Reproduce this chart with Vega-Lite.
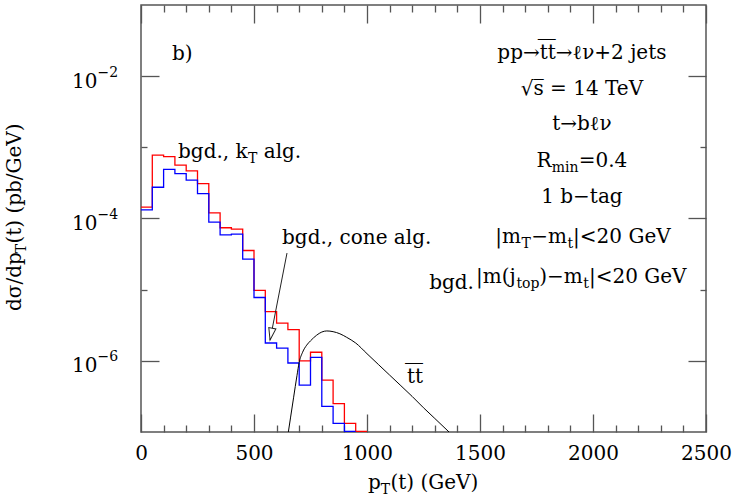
{
  "$schema": "https://vega.github.io/schema/vega-lite/v6.json",
  "width": 565,
  "height": 427,
  "autosize": {"type": "none"},
  "padding": {"left": 141, "top": 5, "right": 30, "bottom": 64},
  "background": "white",
  "config": {
    "view": {"stroke": "#555555", "strokeWidth": 1.5},
    "font": "DejaVu Serif",
    "axis": {"domain": false, "grid": false, "labelFont": "DejaVu Serif", "labelColor": "black", "tickColor": "#555555", "tickWidth": 1.3, "labelFlush": false, "labelOverlap": false},
    "text": {"font": "DejaVu Serif", "color": "black"}
  },
  "datasets": {
    "red": [
      {"pt": 0, "v": 1.445e-4}, {"pt": 50, "v": 7.76e-4}, {"pt": 100, "v": 7.41e-4}, {"pt": 150, "v": 5.62e-4},
      {"pt": 200, "v": 4.68e-4}, {"pt": 250, "v": 3.09e-4}, {"pt": 300, "v": 1.20e-4}, {"pt": 350, "v": 7.41e-5},
      {"pt": 400, "v": 7.08e-5}, {"pt": 450, "v": 3.55e-5}, {"pt": 500, "v": 9.77e-6}, {"pt": 550, "v": 4.90e-6},
      {"pt": 600, "v": 3.39e-6}, {"pt": 650, "v": 2.75e-6}, {"pt": 700, "v": 1.00e-6}, {"pt": 750, "v": 1.32e-6},
      {"pt": 800, "v": 5.37e-7}, {"pt": 850, "v": 2.51e-7}, {"pt": 900, "v": 1.32e-7}, {"pt": 950, "v": 1.02e-7},
      {"pt": 1000, "v": 1.02e-7}
    ],
    "blue": [
      {"pt": 0, "v": 1.32e-4}, {"pt": 50, "v": 2.75e-4}, {"pt": 100, "v": 4.90e-4}, {"pt": 150, "v": 4.27e-4},
      {"pt": 200, "v": 3.47e-4}, {"pt": 250, "v": 2.24e-4}, {"pt": 300, "v": 8.91e-5}, {"pt": 350, "v": 5.89e-5},
      {"pt": 400, "v": 6.03e-5}, {"pt": 450, "v": 2.69e-5}, {"pt": 500, "v": 7.76e-6}, {"pt": 550, "v": 1.78e-6},
      {"pt": 600, "v": 1.51e-6}, {"pt": 650, "v": 9.33e-7}, {"pt": 700, "v": 4.57e-7}, {"pt": 750, "v": 1.12e-6},
      {"pt": 800, "v": 2.29e-7}, {"pt": 850, "v": 1.32e-7}, {"pt": 900, "v": 1.02e-7}, {"pt": 950, "v": 1.02e-7}
    ],
    "ttbar": [
      {"pt": 652, "v": 1.0e-7}, {"pt": 662, "v": 1.62e-7}, {"pt": 675, "v": 3.02e-7}, {"pt": 690, "v": 6.17e-7},
      {"pt": 700, "v": 9.55e-7}, {"pt": 715, "v": 1.32e-6}, {"pt": 733, "v": 1.66e-6}, {"pt": 750, "v": 1.91e-6},
      {"pt": 777, "v": 2.29e-6}, {"pt": 800, "v": 2.54e-6}, {"pt": 822, "v": 2.63e-6}, {"pt": 850, "v": 2.57e-6},
      {"pt": 880, "v": 2.40e-6}, {"pt": 910, "v": 2.14e-6}, {"pt": 950, "v": 1.78e-6}, {"pt": 1000, "v": 1.26e-6},
      {"pt": 1050, "v": 8.91e-7}, {"pt": 1100, "v": 6.31e-7}, {"pt": 1150, "v": 4.47e-7}, {"pt": 1200, "v": 3.16e-7},
      {"pt": 1250, "v": 2.19e-7}, {"pt": 1300, "v": 1.55e-7}, {"pt": 1363, "v": 1.0e-7}
    ],
    "arrow": [{"x": 646, "y": 3.27e-5, "x2": 571, "y2": 1.963e-6}],
    "centered": [
      {"x": 1951, "y": 1.74e-2, "t": "pp\u2192t\u0305t\u0305\u2192\u2113\u03bd+2 jets"},
      {"x": 1951, "y": 5.44e-3, "t": "\u221as\u0305 = 14 TeV"},
      {"x": 1951, "y": 1.754e-3, "t": "t\u2192b\u2113\u03bd"},
      {"x": 1951, "y": 1.652e-4, "t": "1 b\u2212tag"}
    ],
    "annotations": [
      {"x": 137, "y": 1.686e-2, "t": "b)"},
      {"x": 164, "y": 7.08e-4, "t": "bgd., k"},
      {"x": 543, "y": 7.08e-4, "t": "alg."},
      {"x": 624, "y": 4.39e-5, "t": "bgd., cone alg."},
      {"x": 1177, "y": 4.89e-7, "t": "t\u0305t\u0305"},
      {"x": 1750, "y": 5.30e-4, "t": "R"},
      {"x": 1937, "y": 5.30e-4, "t": "=0.4"},
      {"x": 1568, "y": 4.53e-5, "t": "|m"},
      {"x": 1727, "y": 4.53e-5, "t": "\u2212m"},
      {"x": 1912, "y": 4.53e-5, "t": "|<20 GeV"},
      {"x": 1275, "y": 1.022e-5, "t": "bgd."},
      {"x": 1482, "y": 1.242e-5, "t": "|m(j"},
      {"x": 1762, "y": 1.242e-5, "t": ")\u2212m"},
      {"x": 1982, "y": 1.242e-5, "t": "|<20 GeV"},
      {"x": 1004, "y": 1.60e-8, "t": "p"},
      {"x": 1104, "y": 1.60e-8, "t": "(t) (GeV)"}
    ],
    "subscripts": [
      {"x": 473, "y": 6.03e-4, "t": "T"},
      {"x": 1817, "y": 4.50e-4, "t": "min"},
      {"x": 1684, "y": 3.85e-5, "t": "T"},
      {"x": 1887, "y": 3.85e-5, "t": "t"},
      {"x": 1661, "y": 1.055e-5, "t": "top"},
      {"x": 1957, "y": 1.055e-5, "t": "t"},
      {"x": 1061, "y": 1.36e-8, "t": "T"}
    ],
    "ytitle": [
      {"x": -531, "y": 5.01e-6, "t": "d\u03c3/dp"},
      {"x": -531, "y": 4.44e-5, "t": "(t) (pb/GeV)"}
    ],
    "ytitlesub": [
      {"x": -509, "y": 3.254e-5, "t": "T"}
    ]
  },
  "resolve": {"axis": {"x": "independent", "y": "independent"}},
  "layer": [
    {
      "data": {"name": "red"},
      "mark": {"type": "line", "interpolate": "step-after", "color": "#ff0000", "strokeWidth": 1.3, "clip": true},
      "encoding": {
        "x": {"field": "pt", "type": "quantitative", "scale": {"type": "linear", "domain": [0, 2500], "nice": false, "zero": false},
          "axis": {"orient": "bottom", "title": null, "values": [0, 500, 1000, 1500, 2000, 2500], "format": "d", "ticks": false, "labelFontSize": 20, "labelPadding": 11, "labelBaseline": "top", "labelAlign": "center"}},
        "y": {"field": "v", "type": "quantitative", "scale": {"type": "log", "domain": [1e-7, 1e-1], "nice": false},
          "axis": {"orient": "left", "title": null, "values": [1e-6, 1e-4, 1e-2], "labelExpr": "'10'", "ticks": false, "labelFontSize": 20, "labelPadding": 44, "labelAlign": "right", "labelBaseline": "middle", "labelOffset": 5}}
      }
    },
    {
      "data": {"name": "blue"},
      "mark": {"type": "line", "interpolate": "step-after", "color": "#0000ff", "strokeWidth": 1.3, "clip": true},
      "encoding": {
        "x": {"field": "pt", "type": "quantitative", "scale": {"type": "linear", "domain": [0, 2500], "nice": false, "zero": false},
          "axis": {"orient": "bottom", "title": null, "values": [0,100,200,300,400,500,600,700,800,900,1000,1100,1200,1300,1400,1500,1600,1700,1800,1900,2000,2100,2200,2300,2400,2500], "labels": false,
            "tickSize": {"condition": {"test": "datum.value % 500 == 0", "value": -18}, "value": -7}}},
        "y": {"field": "v", "type": "quantitative", "scale": {"type": "log", "domain": [1e-7, 1e-1], "nice": false},
          "axis": {"orient": "left", "title": null, "values": [1e-6, 1e-4, 1e-2], "labelExpr": "'\u2212' + round(-log(datum.value)/LN10)", "ticks": false, "labelFontSize": 14, "labelPadding": 44, "labelAlign": "left", "labelBaseline": "middle", "labelOffset": -4}}
      }
    },
    {
      "data": {"name": "ttbar"},
      "mark": {"type": "line", "interpolate": "monotone", "color": "black", "strokeWidth": 1, "clip": true},
      "encoding": {
        "x": {"field": "pt", "type": "quantitative", "scale": {"type": "linear", "domain": [0, 2500], "nice": false, "zero": false},
          "axis": {"orient": "top", "title": null, "values": [0,100,200,300,400,500,600,700,800,900,1000,1100,1200,1300,1400,1500,1600,1700,1800,1900,2000,2100,2200,2300,2400,2500], "labels": false,
            "tickSize": {"condition": {"test": "datum.value % 500 == 0", "value": -18}, "value": -7}}},
        "y": {"field": "v", "type": "quantitative", "scale": {"type": "log", "domain": [1e-7, 1e-1], "nice": false},
          "axis": {"orient": "left", "title": null, "values": [1e-6, 1e-5, 1e-4, 1e-3, 1e-2], "labels": false,
            "tickSize": {"condition": {"test": "round(log(datum.value)/LN10) % 2 == 0", "value": -18}, "value": -6}}}
      }
    },
    {
      "data": {"name": "arrow"},
      "mark": {"type": "rule", "color": "#222222", "strokeWidth": 1},
      "encoding": {
        "x": {"field": "x", "type": "quantitative", "scale": {"type": "linear", "domain": [0, 2500], "nice": false, "zero": false}, "axis": null},
        "y": {"field": "y", "type": "quantitative", "scale": {"type": "log", "domain": [1e-7, 1e-1], "nice": false},
          "axis": {"orient": "right", "title": null, "values": [1e-6, 1e-5, 1e-4, 1e-3, 1e-2], "labels": false,
            "tickSize": {"condition": {"test": "round(log(datum.value)/LN10) % 2 == 0", "value": -18}, "value": -6}}},
        "x2": {"field": "x2"},
        "y2": {"field": "y2"}
      }
    },
    {
      "data": {"name": "arrow"},
      "mark": {"type": "point", "shape": "M0,0L-0.3,-1L0.3,-1Z", "size": 576, "angle": 11, "filled": true, "fill": "white", "stroke": "#222222", "strokeWidth": 1, "opacity": 1},
      "encoding": {
        "x": {"field": "x2", "type": "quantitative", "scale": {"type": "linear", "domain": [0, 2500], "nice": false, "zero": false}, "axis": null},
        "y": {"field": "y2", "type": "quantitative", "scale": {"type": "log", "domain": [1e-7, 1e-1], "nice": false}, "axis": null}
      }
    },
    {
      "data": {"name": "centered"},
      "mark": {"type": "text", "align": "center", "baseline": "alphabetic", "fontSize": 20, "clip": false},
      "encoding": {
        "x": {"field": "x", "type": "quantitative", "scale": {"type": "linear", "domain": [0, 2500], "nice": false, "zero": false}, "axis": null},
        "y": {"field": "y", "type": "quantitative", "scale": {"type": "log", "domain": [1e-7, 1e-1], "nice": false}, "axis": null},
        "text": {"field": "t"}
      }
    },
    {
      "data": {"name": "annotations"},
      "mark": {"type": "text", "align": "left", "baseline": "alphabetic", "fontSize": 20, "clip": false},
      "encoding": {
        "x": {"field": "x", "type": "quantitative", "scale": {"type": "linear", "domain": [0, 2500], "nice": false, "zero": false}, "axis": null},
        "y": {"field": "y", "type": "quantitative", "scale": {"type": "log", "domain": [1e-7, 1e-1], "nice": false}, "axis": null},
        "text": {"field": "t"}
      }
    },
    {
      "data": {"name": "subscripts"},
      "mark": {"type": "text", "align": "left", "baseline": "alphabetic", "fontSize": 14, "clip": false},
      "encoding": {
        "x": {"field": "x", "type": "quantitative", "scale": {"type": "linear", "domain": [0, 2500], "nice": false, "zero": false}, "axis": null},
        "y": {"field": "y", "type": "quantitative", "scale": {"type": "log", "domain": [1e-7, 1e-1], "nice": false}, "axis": null},
        "text": {"field": "t"}
      }
    },
    {
      "data": {"name": "ytitle"},
      "mark": {"type": "text", "align": "left", "baseline": "alphabetic", "fontSize": 20, "angle": 270, "clip": false},
      "encoding": {
        "x": {"field": "x", "type": "quantitative", "scale": {"type": "linear", "domain": [0, 2500], "nice": false, "zero": false}, "axis": null},
        "y": {"field": "y", "type": "quantitative", "scale": {"type": "log", "domain": [1e-7, 1e-1], "nice": false}, "axis": null},
        "text": {"field": "t"}
      }
    },
    {
      "data": {"name": "ytitlesub"},
      "mark": {"type": "text", "align": "left", "baseline": "alphabetic", "fontSize": 14, "angle": 270, "clip": false},
      "encoding": {
        "x": {"field": "x", "type": "quantitative", "scale": {"type": "linear", "domain": [0, 2500], "nice": false, "zero": false}, "axis": null},
        "y": {"field": "y", "type": "quantitative", "scale": {"type": "log", "domain": [1e-7, 1e-1], "nice": false}, "axis": null},
        "text": {"field": "t"}
      }
    }
  ]
}
